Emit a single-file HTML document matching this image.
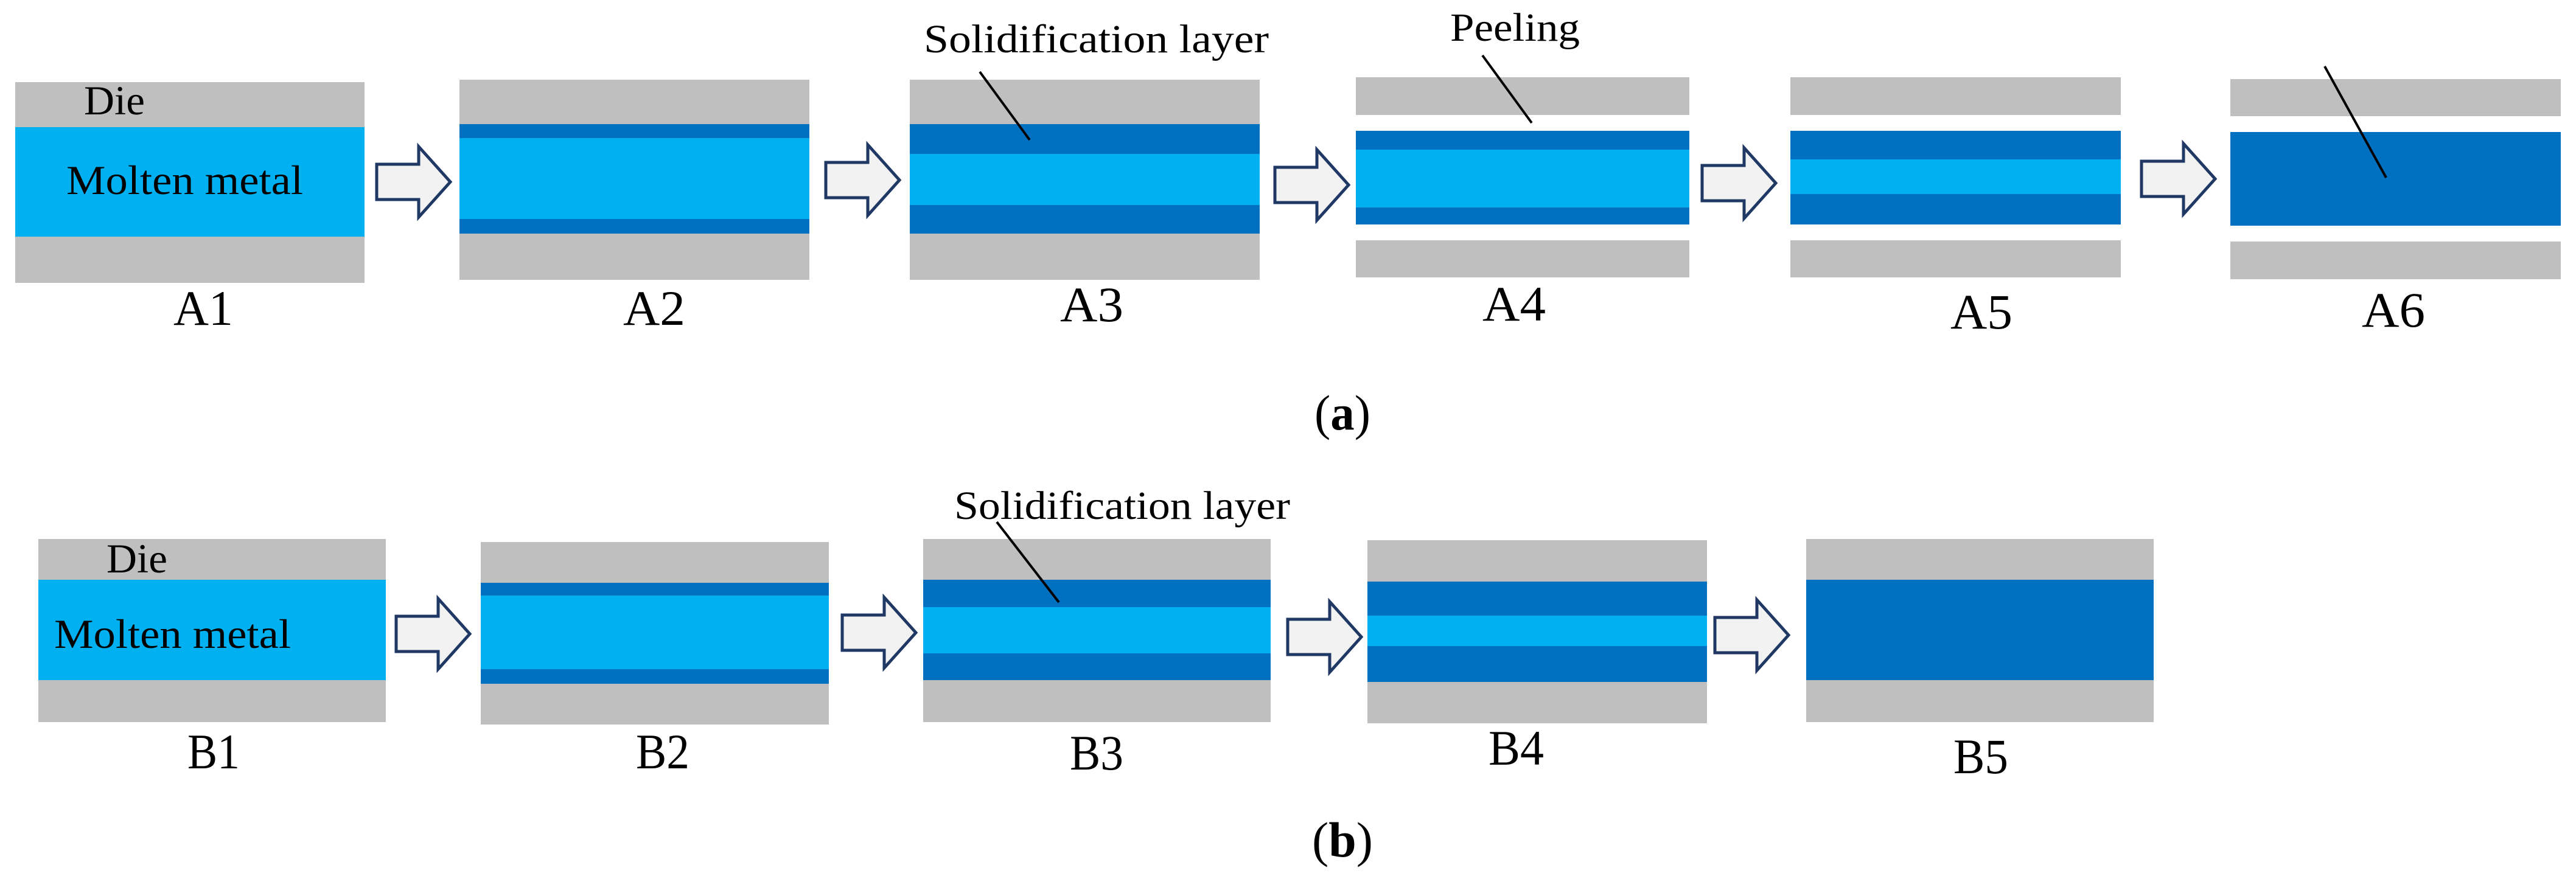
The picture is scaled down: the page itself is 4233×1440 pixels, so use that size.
<!DOCTYPE html>
<html><head><meta charset="utf-8"><style>
html,body{margin:0;padding:0;background:#fff;}
svg{display:block;}
text{font-family:"Liberation Serif","DejaVu Serif",serif;fill:#000;}
</style></head><body>
<svg width="4233" height="1440" viewBox="0 0 4233 1440" xmlns="http://www.w3.org/2000/svg" font-family="Liberation Serif, serif">
<defs>
<g id="arr"><path d="M0,24 L69,24 L69,-5 L121,53 L69,111 L69,82 L0,82 Z" fill="#F2F2F2" stroke="#1F3864" stroke-width="5" stroke-linejoin="miter"/></g>
</defs>
<!-- A1 -->
<rect x="25" y="135" width="574" height="330" fill="#BFBFBF"/>
<rect x="25" y="209" width="574" height="180" fill="#00B0F0"/>
<text x="138" y="188" font-size="68" textLength="100" lengthAdjust="spacingAndGlyphs">Die</text>
<text x="109" y="319" font-size="68" textLength="389" lengthAdjust="spacingAndGlyphs">Molten metal</text>
<text x="285" y="534" font-size="82" textLength="98" lengthAdjust="spacingAndGlyphs">A1</text>
<use href="#arr" x="619" y="246"/>
<!-- A2 -->
<rect x="755" y="131" width="575" height="329" fill="#BFBFBF"/>
<rect x="755" y="204" width="575" height="180" fill="#0070C0"/>
<rect x="755" y="227" width="575" height="133" fill="#00B0F0"/>
<text x="1024" y="534" font-size="82" textLength="102" lengthAdjust="spacingAndGlyphs">A2</text>
<use href="#arr" x="1357" y="243"/>
<!-- A3 -->
<rect x="1495" y="131" width="575" height="329" fill="#BFBFBF"/>
<rect x="1495" y="204" width="575" height="180" fill="#0070C0"/>
<rect x="1495" y="253" width="575" height="84" fill="#00B0F0"/>
<text x="1518" y="86" font-size="66" textLength="567" lengthAdjust="spacingAndGlyphs">Solidification layer</text>
<line x1="1610" y1="118" x2="1692" y2="230" stroke="#000" stroke-width="4"/>
<text x="1742" y="528" font-size="82" textLength="104" lengthAdjust="spacingAndGlyphs">A3</text>
<use href="#arr" x="2095" y="251"/>
<!-- A4 -->
<rect x="2228" y="127" width="548" height="62" fill="#BFBFBF"/>
<rect x="2228" y="215" width="548" height="154" fill="#0070C0"/>
<rect x="2228" y="246" width="548" height="95" fill="#00B0F0"/>
<rect x="2228" y="395" width="548" height="61" fill="#BFBFBF"/>
<text x="2383" y="67" font-size="66" textLength="213" lengthAdjust="spacingAndGlyphs">Peeling</text>
<line x1="2436" y1="91" x2="2517" y2="202" stroke="#000" stroke-width="4"/>
<text x="2436" y="527" font-size="82" textLength="104" lengthAdjust="spacingAndGlyphs">A4</text>
<use href="#arr" x="2797" y="248"/>
<!-- A5 -->
<rect x="2942" y="127" width="543" height="62" fill="#BFBFBF"/>
<rect x="2942" y="215" width="543" height="154" fill="#0070C0"/>
<rect x="2942" y="262" width="543" height="57" fill="#00B0F0"/>
<rect x="2942" y="395" width="543" height="61" fill="#BFBFBF"/>
<text x="3205" y="540" font-size="82" textLength="102" lengthAdjust="spacingAndGlyphs">A5</text>
<use href="#arr" x="3519" y="241"/>
<!-- A6 -->
<rect x="3665" y="130" width="543" height="61" fill="#BFBFBF"/>
<rect x="3665" y="217" width="543" height="154" fill="#0070C0"/>
<rect x="3665" y="397" width="543" height="62" fill="#BFBFBF"/>
<line x1="3820" y1="109" x2="3921" y2="292" stroke="#000" stroke-width="4"/>
<text x="3881" y="537" font-size="82" textLength="104" lengthAdjust="spacingAndGlyphs">A6</text>
<text x="2160" y="706" font-size="82" textLength="92" lengthAdjust="spacingAndGlyphs">(<tspan font-weight="bold">a</tspan>)</text>

<!-- Row B -->
<rect x="63" y="886" width="571" height="301" fill="#BFBFBF"/>
<rect x="63" y="953" width="571" height="165" fill="#00B0F0"/>
<text x="175" y="941" font-size="68" textLength="100" lengthAdjust="spacingAndGlyphs">Die</text>
<text x="89" y="1065" font-size="68" textLength="389" lengthAdjust="spacingAndGlyphs">Molten metal</text>
<text x="308" y="1263" font-size="82" textLength="86" lengthAdjust="spacingAndGlyphs">B1</text>
<use href="#arr" x="651" y="989"/>
<!-- B2 -->
<rect x="790" y="891" width="572" height="300" fill="#BFBFBF"/>
<rect x="790" y="958" width="572" height="166" fill="#0070C0"/>
<rect x="790" y="979" width="572" height="121" fill="#00B0F0"/>
<text x="1045" y="1263" font-size="82" textLength="88" lengthAdjust="spacingAndGlyphs">B2</text>
<use href="#arr" x="1384" y="987"/>
<!-- B3 -->
<rect x="1517" y="886" width="571" height="301" fill="#BFBFBF"/>
<rect x="1517" y="953" width="571" height="165" fill="#0070C0"/>
<rect x="1517" y="998" width="571" height="76" fill="#00B0F0"/>
<text x="1568" y="853" font-size="66" textLength="552" lengthAdjust="spacingAndGlyphs">Solidification layer</text>
<line x1="1638" y1="858" x2="1740" y2="990" stroke="#000" stroke-width="4"/>
<text x="1758" y="1265" font-size="82" textLength="88" lengthAdjust="spacingAndGlyphs">B3</text>
<use href="#arr" x="2116" y="994"/>
<!-- B4 -->
<rect x="2247" y="888" width="558" height="301" fill="#BFBFBF"/>
<rect x="2247" y="956" width="558" height="165" fill="#0070C0"/>
<rect x="2247" y="1012" width="558" height="50" fill="#00B0F0"/>
<text x="2446" y="1257" font-size="82" textLength="91" lengthAdjust="spacingAndGlyphs">B4</text>
<use href="#arr" x="2818" y="991"/>
<!-- B5 -->
<rect x="2968" y="886" width="571" height="301" fill="#BFBFBF"/>
<rect x="2968" y="953" width="571" height="165" fill="#0070C0"/>
<text x="3210" y="1271" font-size="82" textLength="90" lengthAdjust="spacingAndGlyphs">B5</text>
<text x="2156" y="1408" font-size="82" textLength="100" lengthAdjust="spacingAndGlyphs">(<tspan font-weight="bold">b</tspan>)</text>
</svg>
</body></html>
